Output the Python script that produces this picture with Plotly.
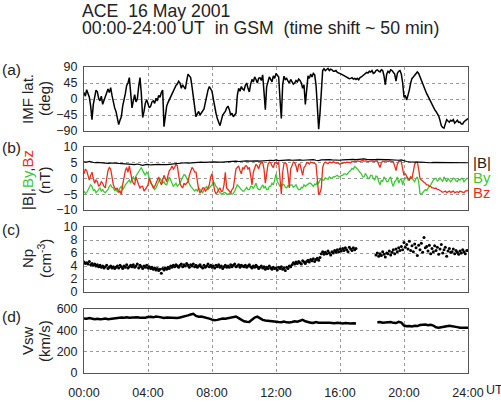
import plotly.graph_objects as go

# ---------------- data ----------------
# sample times in hours (00:00 .. 24:00 UT)
t5 = [i / 12 for i in range(289)]    # 5-minute samples
t10 = [i / 6 for i in range(145)]    # 10-minute samples

imf_lat = [
    18, 8, 26, 15, 5, -20, -58, -15, 10, 25, 20, 2,
    -5, 8, -15, -5, 5, 15, 28, 18, 32, 10, -12, -25,
    -35, -50, -72, -60, -50, -20, -5, 15, 38, 45, 60, 25,
    -25, -5, 12, -8, 0, 35, 60, 15, -52, -35, -12, -2,
    -12, -25, -20, -8, -5, -12, 2, -5, 10, 5, 18, 25,
    -78, -50, -20, -10, -2, 8, 12, 20, 30, 38, 42, 50,
    45, 30, 40, 35, 28, 50, 70, 65, 60, 35, 10, -20,
    -50, -42, -35, -45, -38, -32, -28, -10, 12, 25, 35, 28,
    22, 0, -25, -40, -55, -65, -75, -60, -45, -40, -35, -25,
    -20, -30, -45, -40, -50, -45, -40, 10, 30, 22, 35, 28,
    25, 38, 45, 30, 20, 42, 55, 48, 62, 55, 45, 58,
    60, 52, 68, 20, -30, 35, 50, 62, 55, 48, 65, 58,
    72, 65, 62, 0, -55, 40, 64, 55, 58, 50, 45, 55,
    50, 42, 45, 52, 48, 56, 52, 45, 30, 40, -15, 40,
    65, 58, 70, 62, 72, 68, 40, -20, -85, -40, 30, 80,
    85, 80, 83, 86, 80, 84, 82, 78, 78, 80, 75, 74,
    72, 70, 68, 66, 64, 62, 60, 57, 58, 60, 56, 58,
    55, 58, 54, 60, 62, 66, 68, 72, 75, 73, 78, 76,
    80, 72, 74, 80, 82, 78, 76, 82, 80, 65, 40, 70,
    78, 74, 82, 80, 76, 70, 50, 72, 78, 80, 70, 45,
    5, 10, -3, 10, 25, 45, 58, 62, 68, 72, 76, 72,
    62, 52, 40, 35, 25, 15, 8, 0, -5, -15, -25, -30,
    -35, -42, -48, -60, -75, -80, -82, -70, -58, -62, -65, -60,
    -62, -58, -68, -64, -60, -66, -65, -70, -70, -64, -62, -58,
    -55,
]

b_y = [
    -4.0, -4.8, -4.5, -3.5, -3.0, -2.0, -2.5, -3.8, -3.5, -4.5, -4.0, -3.5,
    -3.0, -4.0, -3.5, -4.2, -4.5, -4.0, -3.5, -2.5, -2.0, -2.8, -3.0, -3.8,
    -3.5, -4.2, -4.0, -3.0, -2.5, -3.5, -3.0, -2.0, -1.5, -1.0, -0.5, -1.5,
    0.0, 0.5, -0.5, 0.8, 1.5, 2.5, 3.0, 3.5, 2.5, 1.5, 1.0, 2.0,
    1.5, 0.0, -1.5, -2.0, -2.5, -3.5, -3.0, -2.0, -1.0, 0.0, -0.5, -1.5,
    -1.0, -1.8, -2.0, -0.5, 0.5, -0.5, -1.5, -2.5, -2.0, -1.5, -2.5, -2.0,
    -1.5, -0.5, 0.5, 1.2, 1.0, 0.0, -0.5, -1.5, -2.5, -3.0, -3.5, -4.0,
    -3.5, -4.0, -3.0, -3.5, -4.0, -4.5, -3.5, -3.0, -2.5, -3.5, -3.0, -2.5,
    -2.0, -1.0, -1.5, -2.5, -3.0, -4.0, -4.5, -5.0, -4.8, -4.4, -4.5, -5.0,
    -5.0, -4.6, -4.5, -5.0, -4.8, -4.0, -3.0, -2.0, -2.5, -3.0, -3.5, -4.0,
    -4.0, -3.2, -2.8, -3.5, -3.5, -2.5, -2.5, -3.2, -2.0, -1.5, -3.0, -3.5,
    -3.5, -2.5, -2.0, -3.0, -2.5, -3.5, -3.5, -2.5, -2.5, -1.5, -2.0, -0.5,
    1.5, -1.0, -2.0, -2.5, -2.5, -1.8, -2.0, -2.8, -3.0, -2.2, -2.5, -2.0,
    -2.0, -2.8, -2.5, -2.0, -3.0, -3.5, -3.5, -2.8, -3.0, -2.0, -2.5, -2.2,
    -2.0, -1.5, -1.5, -2.2, -2.5, -1.8, -2.0, -1.0, -1.5, -0.5, 0.0, -0.5,
    -0.5, 0.2, 0.0, -0.3, 0.5, 0.2, 0.0, 0.6, 0.5, 0.8, 1.0, 0.6,
    0.5, 1.0, 1.0, 1.5, 1.5, 1.2, 1.8, 2.2, 2.5, 3.2, 3.0, 3.8,
    3.5, 3.0, 2.5, 2.0, 1.5, 0.5, 0.5, 1.5, 1.0, 0.0, 0.0, 1.0,
    1.0, 0.0, -0.5, 0.8, 0.5, -1.0, -2.0, -0.5, -1.0, 0.5, 0.0, -1.0,
    -1.0, 0.0, 0.5, -1.5, -2.5, -1.0, -0.5, 0.5, -1.5, -0.5, 0.0, -2.0,
    -0.5, 0.0, 0.5, -0.5, -0.5, 0.5, 0.0, -0.8, -1.0, 0.0, 0.5, -1.0,
    -4.8, -5.0, -4.5, -4.0, -3.5, -3.8, -3.0, -2.5, -2.0, -1.0, -0.5, 0.0,
    0.0, -0.8, -0.5, 0.2, -0.5, -1.0, 0.5, -0.5, -1.0, 0.0, -0.5, -1.0,
    -0.5, 0.0, 0.0, -0.8, -1.0, -0.2, -0.5, 0.0, 0.0, -1.0, -0.5, 0.0,
    0.0,
]

b_z = [
    1.5, 3.0, 2.5, 0.5, -0.5, 1.0, 2.0, 0.0, -1.5, -0.5, -1.0, -2.5,
    -2.0, -1.0, -1.5, -2.5, -3.0, 0.0, 2.5, 3.5, 3.0, 0.5, -2.0, -3.0,
    -3.5, -3.0, -4.5, -4.0, -5.0, -2.0, 1.0, 2.5, 3.5, 2.0, 4.0, 1.5,
    -0.5, -1.5, -2.0, 0.5, -1.0, -2.0, -3.0, -2.5, -2.5, -4.0, -3.5, -2.5,
    -2.0, 0.0, -1.0, -2.0, -3.0, -2.5, -1.5, 0.0, 0.5, -1.0, -2.0, -0.5,
    1.0, 0.0, -1.0, 1.0, 2.5, 3.0, 4.0, 3.0, 3.5, 4.5, 4.0, 1.0,
    -1.5, -2.5, -3.0, -1.5, -2.0, -1.5, -1.0, 1.0, 2.5, 3.5, 3.0, 2.0,
    2.0, -1.0, -3.5, -4.5, -4.0, -3.0, -3.0, -4.0, -3.5, -3.0, -2.0, 0.5,
    1.5, -2.0, -4.0, -4.8, -4.5, -3.5, -3.0, -4.2, -4.0, -2.0, 2.0, -3.0,
    -3.5, -4.0, -4.5, -3.5, -3.0, 0.0, 3.0, 3.5, 4.0, 2.5, 1.5, 3.5,
    3.0, 4.0, 4.0, 3.0, 3.5, 1.0, -2.0, 2.0, 3.5, 4.5, 4.0, 3.0,
    4.5, 5.0, 5.0, 3.0, -1.5, 2.5, 4.5, 5.2, 5.0, 4.0, 3.5, 5.0,
    5.0, 4.6, 5.2, 0.0, -5.0, 2.0, 4.8, 5.0, 4.5, 1.5, -3.0, 3.0,
    4.5, 5.2, 5.0, 4.0, 2.0, 4.5, 4.6, 3.0, 1.0, 3.5, 4.0, 5.0,
    5.0, 4.6, 5.2, 5.0, 5.0, 4.8, 4.5, 0.0, -5.2, -4.5, -3.0, 3.5,
    4.8, 5.2, 5.0, 4.7, 5.2, 5.0, 5.0, 5.3, 5.1, 4.9, 5.0, 4.6,
    4.5, 4.9, 4.8, 5.1, 5.0, 5.2, 5.2, 5.0, 5.0, 5.4, 5.3, 5.5,
    5.4, 5.6, 5.5, 5.4, 5.6, 5.7, 5.5, 5.6, 5.6, 5.4, 5.5, 5.6,
    5.6, 5.5, 5.4, 5.6, 5.5, 4.5, 3.5, 5.0, 5.5, 5.4, 5.6, 5.5,
    5.4, 5.6, 5.5, 5.3, 5.3, 4.0, 2.5, 4.5, 5.4, 5.5, 5.3, 3.0,
    1.0, 1.5, 0.5, 0.0, -0.5, 0.5, 0.0, 2.0, 4.5, 5.2, 5.2, 3.0,
    0.0, -0.5, -1.0, -1.2, -1.5, -2.0, -2.0, -2.5, -2.5, -3.0, -3.0, -3.2,
    -3.0, -3.5, -3.5, -3.8, -4.0, -4.4, -4.2, -4.0, -4.5, -4.3, -4.0, -4.4,
    -4.3, -4.0, -4.5, -4.3, -4.2, -4.5, -4.0, -4.2, -4.3, -4.5, -4.0, -3.9,
    -3.8,
]

b_total = [
    5.3, 5.2, 5.4, 5.1, 5.0, 5.1,
    5.0, 4.9, 5.0, 4.8, 4.9, 5.0,
    4.9, 4.8, 4.7, 4.8, 4.6, 4.5,
    4.5, 4.4, 4.6, 4.3, 4.2, 4.4,
    4.5, 4.3, 4.4, 4.6, 4.5, 4.4,
    4.3, 4.4, 4.5, 4.6, 4.7, 4.8,
    4.8, 4.9, 5.0, 4.9, 5.0, 5.1,
    5.0, 5.1, 5.2, 5.1, 5.2, 5.3,
    5.2, 5.3, 5.2, 5.1, 5.2, 5.3,
    5.4, 5.3, 5.4, 5.5, 5.4, 5.5,
    5.5, 5.6, 5.5, 5.6, 5.7, 5.6,
    5.5, 5.6, 5.7, 5.6, 5.8, 5.7,
    5.9, 5.7, 5.8, 5.9, 5.8, 5.9,
    5.8, 5.9, 6.0, 5.9, 5.8, 5.9,
    6.0, 5.9, 6.0, 5.8, 5.7, 5.9,
    6.0, 5.9, 6.0, 5.9, 5.8, 5.9,
    5.8, 5.9, 6.0, 5.9, 6.0, 6.1,
    6.0, 6.1, 6.0, 6.2, 6.1, 6.0,
    6.1, 6.0, 6.1, 6.0, 5.9, 6.0,
    6.0, 5.9, 6.0, 5.9, 5.8, 5.9,
    5.6, 5.4, 5.3, 5.2, 5.3, 5.2,
    5.2, 5.1, 5.2, 5.1, 5.0, 5.1,
    5.1, 5.0, 5.1, 5.0, 5.1, 5.0,
    5.0, 5.1, 5.0, 5.0, 4.9, 5.0,
    5.0,
]

n_p = [
    4.6, 4.4, 4.5, 4.3, 4.7, 4.2, 4.4, 4.1, 4.3, 4.0, 4.2, 3.9,
    4.1, 3.8, 4.0, 3.7, 3.9, 4.1, 3.6, 3.8, 4.0, 3.7, 3.9, 3.6,
    3.8, 4.0, 3.7, 4.1, 3.9, 3.6, 4.0, 3.8, 4.2, 3.7, 3.9, 4.1,
    3.9, 4.2, 3.8, 4.0, 4.3, 3.7, 4.1, 3.9, 3.6, 4.0, 3.8, 4.1,
    3.7, 3.9, 3.6, 3.8, 3.5, 3.7, 3.4, 3.6, 3.3, 3.5, 2.9, 3.6,
    3.4, 3.7, 3.5, 3.8, 3.6, 4.0, 3.8, 4.1, 3.9, 4.2, 4.0, 3.8,
    4.1, 4.3, 3.9, 4.2, 4.0, 4.4, 4.1, 3.8, 4.2, 4.0, 4.3, 3.9,
    4.1, 3.8, 4.0, 4.2, 3.9, 3.7, 4.1, 3.8, 4.0, 4.3, 3.9, 4.1,
    3.8, 4.0, 3.7, 4.1, 3.9, 4.2, 3.8, 4.0, 3.6, 3.9, 4.1, 3.8,
    4.0, 3.8, 4.2, 3.9, 4.1, 4.3, 3.9, 4.0, 4.2, 3.8, 4.1, 4.0,
    3.9, 4.1, 3.8, 4.0, 4.2, 3.9, 3.7, 4.0, 3.8, 4.1, 3.9, 3.6,
    3.8, 4.0, 3.7, 3.9, 3.5, 3.8, 3.6, 4.0, 3.7, 3.5, 3.8, 3.6,
    3.7, 3.4, 3.8, 3.6, 3.9, 3.5, 3.7, 3.3, 3.8, 3.6, 4.0, 3.9,
    4.2, 4.5, 4.3, 4.6, 4.4, 4.7, 4.5, 4.3, 4.8, 4.6, 4.4, 4.7,
    4.9, 4.6, 5.0, 4.8, 5.1, 4.7, 5.0, 5.2, 4.9, 5.3, 5.9, 6.2,
    5.8, 6.1, 5.9, 6.3, 6.0, 5.7, 6.2, 6.0, 6.4, 6.1, 6.5, 6.2,
    6.6, 6.3, 6.7, 6.4, 6.8, 6.5, 6.2, 6.9, 6.6, 6.4, 6.8, 6.5,
    6.7, None, None, None, None, None, None, None, None, None, None, None,
    None, None, None, 5.7, 6.0, 5.5, 5.9, 5.6, 6.2, 5.8, 5.4, 6.0,
    5.9, 6.3, 5.7, 6.1, 6.5, 5.9, 6.6, 6.2, 6.8, 6.4, 7.0, 6.5,
    7.6, 6.9, 7.3, 6.6, 7.8, 6.4, 7.1, 6.2, 7.4, 6.8, 5.6, 7.2,
    6.5, 7.5, 6.1, 8.4, 6.8, 7.0, 6.3, 7.2, 5.9, 6.7, 6.2, 7.1,
    6.4, 6.9, 5.8, 6.6, 7.3, 6.0, 6.5, 6.9, 5.5, 6.3, 6.7, 6.1,
    6.2, 6.6, 5.9, 6.4, 6.1, 5.8, 6.3, 6.0, 6.5, 6.2, 5.9, 6.4,
    6.4,
]

v_sw = [
    512, 508, 515, 510, 505, 508,
    503, 506, 510, 505, 508, 512,
    518, 515, 520, 517, 522, 518,
    520, 516, 522, 519, 515, 518,
    525, 528, 522, 530, 526, 520,
    515, 520, 518, 522, 519, 515,
    520, 525, 535, 540, 548, 555,
    535, 528, 530, 525, 520, 510,
    500, 495, 498, 505, 510, 508,
    512, 518, 525, 530, 515, 500,
    485, 480, 478, 500, 520, 528,
    510, 498, 492, 488, 490, 485,
    480, 478, 476, 482, 475, 473,
    478, 484, 480, 490, 498, 485,
    475, 472, 470, 478, 472, 470,
    468, 470, 472, 468, 466, 470,
    466, 465, 468, 463, 465, 466,
    464, None, None, None, None, None,
    None, None, 476, 478, 472, 476,
    474, 478, 470, 468, 480, 472,
    445, 438, 440, 436, 442, 440,
    450, 452, 455, 448, 452, 445,
    428, 425, 430, 440, 438, 442,
    438, 440, 430, 424, 428, 425,
    425,
]

x_tickvals = [0, 4, 8, 12, 16, 20, 24]
x_ticktext = ["00:00", "04:00", "08:00", "12:00", "16:00", "20:00", "24:00"]

# ---------------- figure ----------------
W, H = 501, 403
FONT = "Liberation Sans, Arial, Helvetica, sans-serif"
GREEN = "rgb(60,200,50)"
RED = "rgb(235,45,25)"


def px_x(p):
    return p / W


def px_y(p):
    return 1 - p / H


xdom = [px_x(84), px_x(468)]
ydoms = [
    [px_y(131), px_y(67)],
    [px_y(210), px_y(147)],
    [px_y(292), px_y(227)],
    [px_y(373), px_y(309)],
]

fig = go.Figure()

fig.add_trace(go.Scatter(x=t5, y=imf_lat, mode="lines",
                         line=dict(color="black", width=1.5),
                         xaxis="x", yaxis="y"))
fig.add_trace(go.Scatter(x=t5, y=b_y, mode="lines",
                         line=dict(color=GREEN, width=1.3),
                         xaxis="x2", yaxis="y2"))
fig.add_trace(go.Scatter(x=t5, y=b_z, mode="lines",
                         line=dict(color=RED, width=1.3),
                         xaxis="x2", yaxis="y2"))
fig.add_trace(go.Scatter(x=t10, y=b_total, mode="lines",
                         line=dict(color="black", width=1.2),
                         xaxis="x2", yaxis="y2"))
fig.add_trace(go.Scatter(x=t5, y=n_p, mode="markers",
                         marker=dict(color="black", size=3),
                         xaxis="x3", yaxis="y3"))
fig.add_trace(go.Scatter(x=t10, y=v_sw, mode="lines",
                         line=dict(color="black", width=2.5),
                         connectgaps=False,
                         xaxis="x4", yaxis="y4"))

grid = dict(showgrid=True, gridcolor="#9a9a9a", gridwidth=1, griddash="3px,3px",
            showline=True, linecolor="#555", linewidth=1, mirror=True,
            zeroline=False, ticks="", automargin=False,
            tickfont=dict(family=FONT, size=12.5, color="#222"))

yranges = [[-90, 90], [-10, 10], [0, 10], [0, 600]]
ytickv = [[90, 45, 0, -45, -90], [10, 5, 0, -5, -10], [10, 8, 6, 4, 2, 0], [600, 400, 200, 0]]

layout = dict(
    width=W, height=H,
    margin=dict(l=0, r=0, t=0, b=0, pad=0),
    paper_bgcolor="white", plot_bgcolor="white",
    showlegend=False,
    font=dict(family=FONT, color="#222"),
)

for i in range(4):
    xa = "xaxis" if i == 0 else f"xaxis{i+1}"
    ya = "yaxis" if i == 0 else f"yaxis{i+1}"
    yname = "y" if i == 0 else f"y{i+1}"
    xname = "x" if i == 0 else f"x{i+1}"
    layout[xa] = dict(grid, domain=xdom, range=[0, 24], anchor=yname,
                      tickvals=x_tickvals, ticktext=x_ticktext,
                      showticklabels=(i == 3), ticklabelstandoff=8)
    layout[ya] = dict(grid, domain=ydoms[i], range=yranges[i], anchor=xname,
                      tickvals=ytickv[i], ticklabelstandoff=3)

fig.update_layout(**layout)

ann = []
NB = "\u00a0"
ann.append(dict(text="ACE" + NB * 2 + "16 May 2001", x=px_x(80), y=px_y(11),
                xanchor="left", yanchor="middle", align="left", font=dict(size=17.7)))
ann.append(dict(text="00:00-24:00 UT" + NB * 2 + "in GSM" + NB * 2 + "(time shift ~ 50 min)",
                x=px_x(80), y=px_y(27.5), xanchor="left", yanchor="middle", align="left",
                font=dict(size=17.7)))
for lab, yc in [("(a)", 70), ("(b)", 147), ("(c)", 230), ("(d)", 316)]:
    ann.append(dict(text=lab, x=0, y=px_y(yc), xanchor="left", yanchor="middle",
                    align="left", font=dict(size=15.5)))

ytitles = [
    ("IMF lat.", "(deg)", 99),
    ("|B|,<span style='color:" + GREEN + "'>By</span>,<span style='color:" + RED + "'>Bz</span>",
     "(nT)", 180),
    ("Np", "(cm<sup>-3</sup>)", 259),
    ("Vsw", "(km/s)", 341),
]
for l1, l2, yc in ytitles:
    ann.append(dict(text=l1, x=px_x(27), y=px_y(yc), xanchor="center", yanchor="middle",
                    textangle=-90, font=dict(size=15)))
    ann.append(dict(text=l2, x=px_x(44), y=px_y(yc), xanchor="center", yanchor="middle",
                    textangle=-90, font=dict(size=15)))

ann.append(dict(text="|B|", x=px_x(471), y=px_y(163), xanchor="left", yanchor="middle",
                align="left", font=dict(size=15, color="#222")))
ann.append(dict(text="By", x=px_x(471), y=px_y(178), xanchor="left", yanchor="middle",
                align="left", font=dict(size=15, color=GREEN)))
ann.append(dict(text="Bz", x=px_x(471), y=px_y(192), xanchor="left", yanchor="middle",
                align="left", font=dict(size=15, color=RED)))
ann.append(dict(text="UT", x=px_x(484), y=px_y(390), xanchor="left", yanchor="middle",
                align="left", font=dict(size=12.5, color="#222")))

for a in ann:
    a.update(xref="paper", yref="paper", showarrow=False)
fig.update_layout(annotations=ann)

fig.write_html("out.html")
